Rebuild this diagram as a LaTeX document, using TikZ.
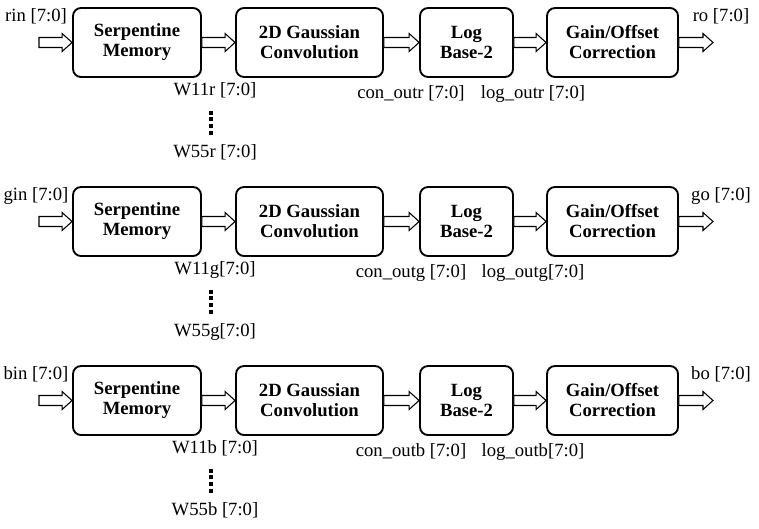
\documentclass[tikz,border=0pt]{standalone}
\usepackage{fontspec}
\setmainfont{Liberation Serif}
\usetikzlibrary{calc}
\newcommand\hollowarrow[2]{%
  \draw[hollow] ($(#1)+(0,5)$) -- ($(#2)+(-10,5)$) -- ($(#2)+(-10,9)$) -- (#2)
    -- ($(#2)+(-10,-9)$) -- ($(#2)+(-10,-5)$) -- ($(#1)+(0,-5)$) -- cycle;}
\begin{document}
\begin{tikzpicture}[x=0.75pt,y=-0.75pt,
  blk/.style={draw=black, line width=1.4pt, rounded corners=6pt, align=center,
    font=\fontsize{14}{15}\selectfont\bfseries, inner sep=0pt, minimum height=51.75pt},
  hollow/.style={draw=black, line width=0.8pt, fill=white, line join=miter},
  lbl/.style={font=\fontsize{14}{16}\selectfont, anchor=base, inner sep=0pt},
  vdots/.style={line width=3pt, dash pattern=on 3pt off 2pt}]
\useasboundingbox (0,0) rectangle (759,528);
\foreach \i/\yc/\inl/\outl/\wa/\wb/\con/\lg in {%
  1/42.5/{rin [7:0]}/{ro [7:0]}/{W11r [7:0]}/{W55r [7:0]}/{con\_outr [7:0]}/{log\_outr [7:0]},
  2/221.5/{gin [7:0]}/{go [7:0]}/{W11g[7:0]}/{W55g[7:0]}/{con\_outg [7:0]}/{log\_outg[7:0]},
  3/400.5/{bin [7:0]}/{bo [7:0]}/{W11b [7:0]}/{W55b [7:0]}/{con\_outb [7:0]}/{log\_outb[7:0]}}{
  \node[blk, minimum width=96pt]     (S\i) at (137,\yc)   {Serpentine\\Memory};
  \node[blk, minimum width=110.25pt] (G\i) at (309.5,\yc) {2D Gaussian\\Convolution};
  \node[blk, minimum width=69.75pt]  (L\i) at (466.5,\yc) {Log\\Base-2};
  \node[blk, minimum width=98.25pt]  (O\i) at (612.5,\yc) {Gain/Offset\\Correction};
  \coordinate (in\i) at (39,\yc);
  \coordinate (out\i) at (713,\yc);
  \hollowarrow{in\i}{S\i.west}
  \hollowarrow{S\i.east}{G\i.west}
  \hollowarrow{G\i.east}{L\i.west}
  \hollowarrow{L\i.east}{O\i.west}
  \hollowarrow{O\i.east}{out\i}
  \node[lbl] (inl\i) at (36,\yc-21) {\inl};
  \node[lbl] (outl\i) at (721,\yc-21) {\outl};
  \node[lbl] (wa\i) at (215,\yc+53) {\wa};
  \node[lbl] (wb\i) at (215,\yc+115) {\wb};
  \node[lbl] (con\i) at (411,\yc+56) {\con};
  \node[lbl] (lg\i) at (533,\yc+56) {\lg};
  \draw[vdots] (211,\yc+68) -- (211,\yc+93);
}
\end{tikzpicture}
\end{document}
